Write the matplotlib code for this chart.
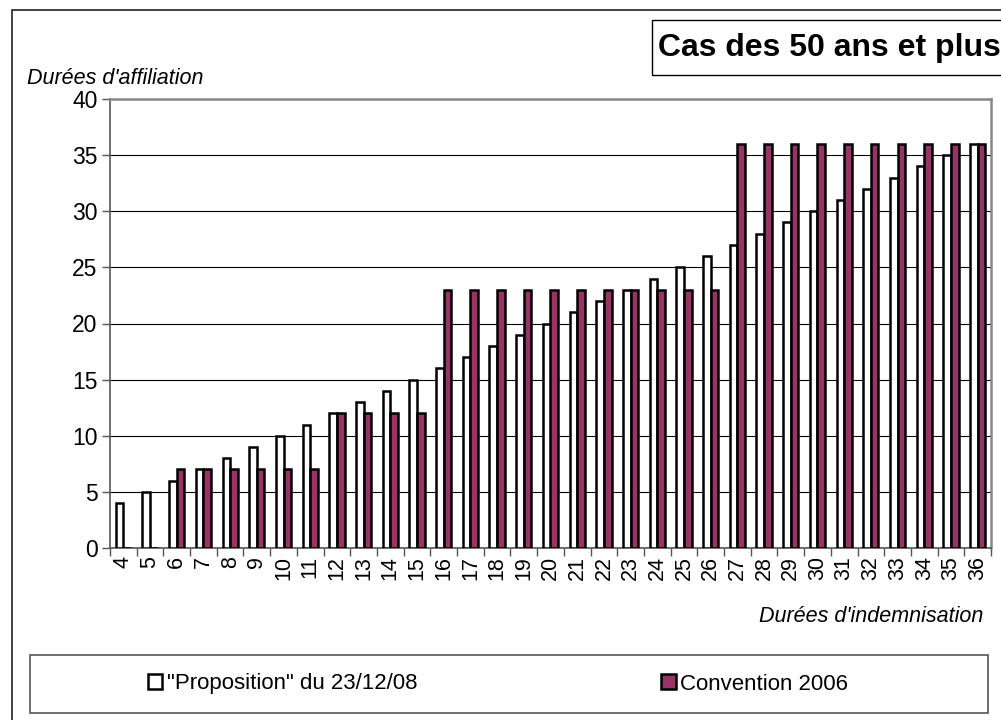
import matplotlib.pyplot as plt
import numpy as np
from matplotlib.patches import Rectangle

plt.rcParams['font.family'] = ['Liberation Sans', 'DejaVu Sans']

# données
durees_indemnisation = list(range(4, 37))
proposition = [4, 5, 6, 7, 8, 9, 10, 11, 12, 13, 14, 15, 16, 17, 18, 19, 20,
               21, 22, 23, 24, 25, 26, 27, 28, 29, 30, 31, 32, 33, 34, 35, 36]
convention_2006 = [0, 0, 7, 7, 7, 7, 7, 7, 12, 12, 12, 12, 23, 23, 23, 23, 23,
                   23, 23, 23, 23, 23, 23, 36, 36, 36, 36, 36, 36, 36, 36, 36, 36]

W, H = 1001, 720
fig = plt.figure(figsize=(W / 100, H / 100), dpi=100)

# cadre extérieur
fig.add_artist(Rectangle((12 / W, -0.1), 1.2, (H - 10) / H + 0.1,
                         transform=fig.transFigure, fill=False,
                         edgecolor='#333333', linewidth=1.3))

ax = fig.add_axes([110 / W, 1 - 548 / H, 881 / W, 449 / H])
x = np.arange(len(durees_indemnisation))
w = 0.285
ax.bar(x - w / 2, proposition, w, color='white', edgecolor='black',
       linewidth=1.8, label='"Proposition" du 23/12/08', zorder=3)
ax.bar(x + w / 2, convention_2006, w, color='#993366', edgecolor='black',
       linewidth=1.8, label='Convention 2006', zorder=3)

ax.set_xlim(-0.5, len(x) - 0.5)
ax.set_ylim(0, 40)
ax.set_yticks(range(0, 41, 5))
ax.yaxis.grid(True, color='black', linewidth=0.8, zorder=0)
ax.set_xticks(x)
ax.set_xticklabels(durees_indemnisation, rotation=90, fontsize=15.5)
ax.tick_params(axis='x', length=0, pad=6)
ax.set_xticks(np.arange(-0.5, len(x), 1), minor=True)
ax.tick_params(axis='x', which='minor', length=6, width=1, color='#555555')
ax.tick_params(axis='y', labelsize=16.5, length=6, width=1, color='#555555', pad=3)
for s in ['top', 'right']:
    ax.spines[s].set_color('#888888')
    ax.spines[s].set_linewidth(1.8)
for s in ['left', 'bottom']:
    ax.spines[s].set_color('#555555')
    ax.spines[s].set_linewidth(1.2)

fig.text(27 / W, 1 - 78 / H, "Durées d'affiliation", fontsize=15.5,
         style='italic', va='center', ha='left')
fig.text(983 / W, 1 - 617 / H, "Durées d'indemnisation", fontsize=15.5,
         style='italic', va='center', ha='right')

# titre encadré
fig.add_artist(Rectangle((652 / W, 1 - 75 / H), 400 / W, 55 / H,
                         transform=fig.transFigure, fill=False,
                         edgecolor='black', linewidth=1.0))
fig.text(658 / W, 1 - 48 / H, "Cas des 50 ans et plus", fontsize=23,
         fontweight='bold', va='center', ha='left')

# légende
fig.add_artist(Rectangle((30 / W, 1 - 713 / H), 958 / W, 58 / H,
                         transform=fig.transFigure, fill=False,
                         edgecolor='#555555', linewidth=1.2))
handles, labels = ax.get_legend_handles_labels()
leg = fig.legend(handles, labels, loc='center', ncol=2,
                 bbox_to_anchor=(498 / W, 1 - 684 / H), frameon=False,
                 fontsize=16, handlelength=0.65, handleheight=0.65,
                 handletextpad=0.2, columnspacing=11.0)

fig.savefig('out.png', dpi=100)
